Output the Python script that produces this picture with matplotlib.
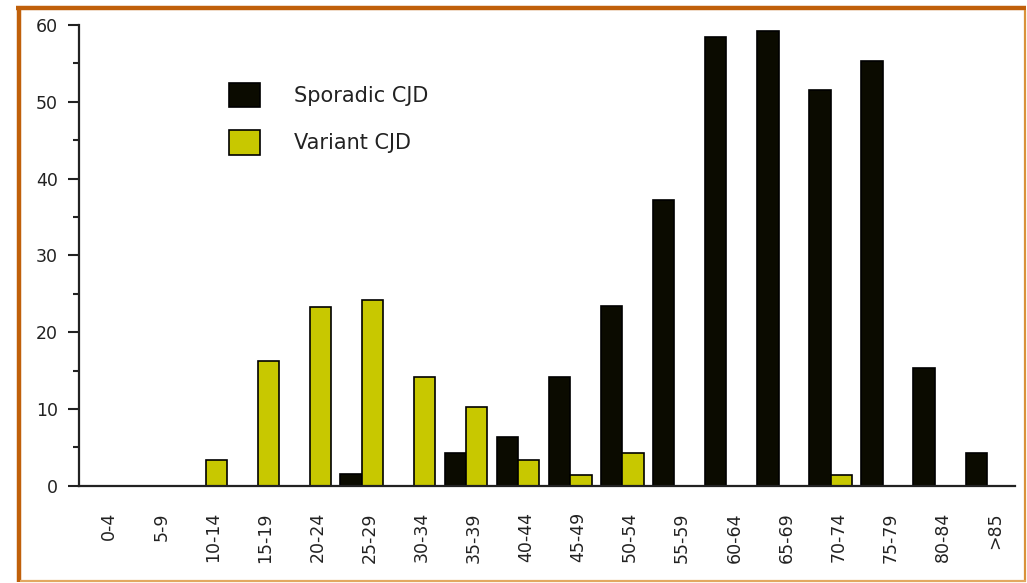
import numpy as np
import matplotlib
matplotlib.use("Agg")
import matplotlib.pyplot as plt
from matplotlib.lines import Line2D
from matplotlib.ticker import MultipleLocator

age_groups = ["0-4", "5-9", "10-14", "15-19", "20-24", "25-29", "30-34", "35-39",
              "40-44", "45-49", "50-54", "55-59", "60-64", "65-69", "70-74",
              "75-79", "80-84", ">85"]
sporadic = [0, 0, 0, 0, 0, 1.5, 0, 4.2, 6.4, 14.2, 23.4, 37.2, 58.4, 59.2,
            51.5, 55.3, 15.3, 4.2]
variant = [0, 0, 3.3, 16.3, 23.3, 24.2, 14.2, 10.3, 3.3, 1.4, 4.2, 0, 0, 0,
           1.4, 0, 0, 0]

black = "#0b0b00"
yellow = "#c8c800"
W, H = 1027, 583

fig = plt.figure(figsize=(10.27, 5.83), dpi=100)
fig.patch.set_facecolor("white")

# frame: thick dark top/left, thin light right/bottom
def fline(x0, y0, x1, y1, color, lw):
    fig.add_artist(Line2D([x0 / W, x1 / W], [1 - y0 / H, 1 - y1 / H],
                          transform=fig.transFigure, color=color, lw=lw,
                          solid_capstyle="butt"))

fline(16, 8, 1026, 8, "#c0600a", 3.2)
fline(18.5, 6, 18.5, 582, "#c0600a", 3.2)
fline(1025, 10, 1025, 582, "#d8923a", 1.6)
fline(20, 581, 1026, 581, "#e2a860", 1.6)

ax = fig.add_axes([79 / W, 1 - 485.7 / H, 936 / W, 460.7 / H])

x = np.arange(len(age_groups))
w = 0.41
ax.bar(x - w / 2, sporadic, w, color=black, edgecolor="black", linewidth=1.2,
       label="Sporadic CJD")
ax.bar(x + w / 2, variant, w, color=yellow, edgecolor="black", linewidth=1.2,
       label="Variant CJD")

ax.set_xlim(-0.43, 17.54)
ax.set_ylim(0, 60)
for s in ["top", "right"]:
    ax.spines[s].set_visible(False)
for s in ["left", "bottom"]:
    ax.spines[s].set_linewidth(1.6)
    ax.spines[s].set_color("#222222")

ax.yaxis.set_major_locator(MultipleLocator(10))
ax.yaxis.set_minor_locator(MultipleLocator(5))
ax.tick_params(axis="y", which="major", length=8, width=1.5, pad=7,
               labelsize=12.5, colors="#222222")
ax.tick_params(axis="y", which="minor", length=4.5, width=1.5, colors="#222222")

ax.set_xticks(x + 0.15)
ax.set_xticklabels(age_groups, rotation=90, va="top", fontsize=12.5,
                   color="#222222")
ax.tick_params(axis="x", length=0, pad=19)

ax.legend(loc="upper left", bbox_to_anchor=(229 / W, 1 - 83 / H),
          bbox_transform=fig.transFigure, frameon=False, fontsize=15,
          handlelength=1.5, handleheight=1.42, handletextpad=1.6,
          labelspacing=1.1, borderpad=0, borderaxespad=0,
          labelcolor="#222222")

fig.savefig("out.png", dpi=100, facecolor="white")
